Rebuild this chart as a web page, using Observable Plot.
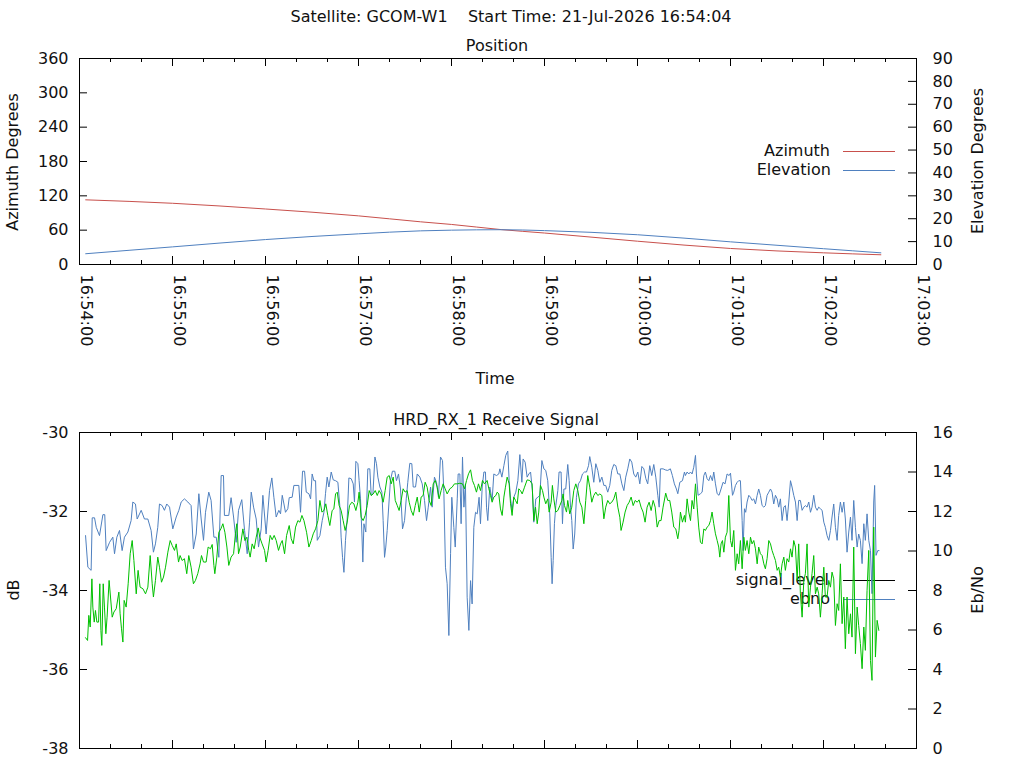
<!DOCTYPE html>
<html><head><meta charset="utf-8">
<script src="https://cdn.jsdelivr.net/npm/d3@7"></script>
<script src="https://cdn.jsdelivr.net/npm/@observablehq/plot@0.6"></script>
<style>
body{margin:0;background:#fff;}
#wrap{position:relative;width:1024px;height:768px;overflow:hidden;font-family:"DejaVu Sans",sans-serif;color:#111;}
.t{position:absolute;font-size:16px;line-height:1;white-space:pre;}
.c{transform:translate(-50%,-50%);}
.r{transform:translate(-50%,-50%) rotate(-90deg);}
.lg{transform:translateY(-50%);text-align:right;}
.ln{position:absolute;height:0;width:52px;}
</style></head><body><div id="wrap"></div>
<script>
// ---------- data ----------
const titleText = "Satellite: GCOM-W1    Start Time: 21-Jul-2026 16:54:04";
const timeLabels = ["16:54:00","16:55:00","16:56:00","16:57:00","16:58:00","16:59:00","17:00:00","17:01:00","17:02:00","17:03:00"];
const azTicks = [0,60,120,180,240,300,360];
const elTicks = [0,10,20,30,40,50,60,70,80,90];
const dbTicks = [-38,-36,-34,-32,-30];
const ebnoTicks = [0,2,4,6,8,10,12,14,16];

// position (seconds after 16:54:00)
const posSec    = [4, 60, 120, 180, 220, 240, 272, 300, 360, 420, 480, 517];
const azimuth   = [113, 107, 97, 85, 74.6, 70, 61, 55, 40.7, 28, 20.4, 17];
const elevation = [4.7, 7.7, 10.9, 13.4, 14.7, 15.0, 15.2, 14.8, 13.0, 9.9, 6.9, 5.1];

// signal level (dB) — seconds after 16:54:00
const sigSec = [
3.9,5.4,7.5,8.2,9.7,10.8,12.9,15.1,16.3,17.2,
19.4,21.5,22.6,24.1,25.8,27.5,29.0,31.2,33.3,34.4,
36.1,37.2,39.8,41.9,44.1,46.2,47.7,49.0,50.5,51.6,
53.3,54.8,56.3,58.1,60.2,62.4,64.1,65.6,67.7,69.9,
72.0,73.5,75.3,77.0,78.5,80.0,81.3,83.4,84.9,86.7,
88.2,89.9,91.4,92.9,93.5,96.3,97.8,99.4,101.1,102.6,
104.7,106.5,108.2,109.7,110.8,112.3,114.0,115.5,117.2,118.3,
120.4,122.6,124.1,125.4,126.9,128.6,
129.7,130.8,131.9,132.9,134.4,135.3,137.2,138.3,141.5,142.6,
143.9,145.2,146.3,148.0,149.1,150.1,151.2,152.3,153.4,155.1,
156.6,157.7,158.7,159.8,160.9,162.4,163.7,165.2,166.7,168.0,
168.8,169.7,170.6,171.6,172.7,173.8,175.3,176.6,177.4,178.3,
179.6,180.4,181.3,182.2,182.8,183.5,184.7,186.0,187.3,188.2,
189.3,190.6,191.6,192.5,193.8,195.1,195.9,196.8,197.6,198.5,
199.6,200.6,201.9,203.4,204.5,205.8,207.1,208.4,209.7,210.8,
211.8,213.1,214.4,215.3,216.8,217.9,219.6,221.1,222.6,223.9,
225.0,226.5,227.5,229.0,230.3,231.6,232.9,234.2,235.1,236.1,
237.2,238.3,239.4,240.2,241.5,242.4,243.7,244.3,245.4,246.2,
247.1,248.0,249.0,250.1,251.2,252.3,253.3,254.4,255.5,256.6,
257.8,258.7,259.8,260.9,261.9,
262.6,263.4,264.7,266.2,267.3,269.0,270.5,271.2,272.5,273.8,
275.0,276.3,277.2,278.1,279.1,280.2,281.5,282.8,284.1,285.4,
286.2,287.5,288.8,289.9,291.0,292.2,293.1,294.4,295.7,297.0,
298.3,299.6,300.8,302.1,303.4,304.3,304.9,305.6,306.4,307.3,
308.6,309.4,310.7,311.6,312.5,313.7,315.0,315.9,316.8,317.6,
318.5,319.5,320.6,321.9,323.2,324.5,325.8,327.1,328.4,329.2,
330.5,331.8,333.1,334.4,335.7,337.0,338.3,339.5,340.8,342.1,
343.4,344.7,346.0,347.3,348.6,349.9,351.2,352.4,353.7,355.0,
356.3,357.6,358.9,360.2,361.5,362.8,364.1,365.4,366.6,367.9,
369.2,370.5,371.8,373.1,374.0,374.8,376.5,378.2,379.5,381.2,
382.5,383.8,385.1,386.0,387.3,389.0,390.3,
390.9,392.0,393.1,394.2,395.2,396.3,397.4,398.0,399.1,400.6,
401.7,402.8,403.8,404.9,406.0,407.1,408.3,409.2,410.3,411.4,
412.6,413.9,415.2,416.5,417.8,419.1,420.0,421.3,422.1,423.2,
424.3,425.3,426.4,427.5,428.1,429.0,429.8,430.7,431.8,432.9,
433.9,435.0,436.1,437.2,438.2,439.3,440.4,441.5,442.5,443.6,
444.7,445.8,446.8,447.9,449.0,450.1,451.1,452.2,453.3,454.4,
455.4,456.5,457.6,458.7,459.7,460.8,461.9,463.0,464.0,465.1,
466.2,467.3,468.3,469.4,470.5,471.6,472.6,473.7,474.8,475.9,
476.9,478.0,479.1,480.2,481.2,482.3,483.4,484.5,485.5,486.6,
487.7,488.8,489.8,490.9,492.0,493.1,494.1,495.2,496.3,497.4,
498.4,499.5,500.6,501.7,502.7,503.8,504.9,506.0,507.0,508.1,
509.2,510.3,511.3,512.4,513.0,513.9,515.0,515.8];
const sigDb = [
-32.61,-33.41,-33.49,-32.16,-32.16,-32.40,-32.61,-32.08,-32.08,-32.99,
-32.78,-32.65,-33.07,-32.65,-32.48,-32.99,-32.65,-32.52,-32.23,-31.76,
-31.81,-32.19,-31.97,-32.19,-32.19,-32.48,-33.03,-32.82,-32.40,-31.81,
-31.85,-31.97,-31.81,-31.89,-32.44,-32.14,-31.97,-31.76,-31.68,-31.76,
-31.85,-32.95,-32.57,-31.55,-32.19,-32.73,-32.02,-31.51,-31.72,-32.65,
-32.65,-33.16,-31.09,-31.09,-32.10,-32.10,-31.65,-32.14,-32.78,-31.97,
-31.70,-32.48,-33.07,-32.27,-31.51,-31.89,-32.19,-32.90,-32.44,-31.59,
-32.57,-31.47,-31.15,-31.64,-32.14,-31.97,
-32.06,-31.59,-31.81,-32.02,-31.93,-31.65,-31.64,-31.34,-31.34,-32.02,
-30.98,-30.98,-31.51,-31.55,-31.68,-31.05,-31.22,-31.22,-32.73,-32.61,
-32.23,-32.02,-31.55,-31.13,-31.38,-31.00,-31.20,-31.22,-31.26,-31.89,
-32.65,-33.16,-33.54,-32.73,-32.19,-31.15,-31.17,-31.30,-31.76,-30.73,
-30.79,-31.22,-31.68,-32.57,-33.28,-32.31,-32.52,-30.92,-30.92,-31.59,
-31.55,-30.62,-30.79,-31.13,-31.38,-31.51,-32.23,-33.16,-32.90,-32.48,
-31.81,-31.22,-30.98,-30.98,-31.22,-31.05,-31.43,-32.44,-32.23,-31.68,
-31.26,-30.78,-30.79,-31.38,-31.38,-31.05,-31.13,-31.30,-31.72,-32.23,
-31.89,-31.38,-31.89,-31.13,-31.26,-31.64,-30.62,-30.71,-31.55,-33.41,
-33.83,-35.14,-33.07,-31.64,-32.40,-32.90,-31.68,-31.05,-31.05,-32.31,
-30.62,-31.89,-31.30,-34.17,-35.01,-33.75,-34.34,-32.40,-32.02,-32.06,
-31.64,-32.31,-31.38,-31.00,-31.00,
-31.89,-32.23,-31.38,-31.72,-31.05,-31.09,-31.05,-30.92,-31.13,-30.84,
-30.58,-30.47,-31.22,-31.68,-31.97,-31.64,-31.51,-31.22,-30.56,-31.26,
-30.67,-30.75,-31.13,-31.05,-31.00,-31.47,-32.27,-31.68,-31.64,-31.59,
-30.71,-30.92,-30.96,-31.22,-32.06,-33.16,-33.83,-33.24,-32.31,-31.85,
-31.47,-31.00,-31.00,-32.31,-31.43,-31.43,-30.81,-31.22,-31.89,-32.23,
-32.95,-32.57,-31.64,-31.30,-31.22,-31.05,-31.00,-31.00,-30.84,-30.61,
-30.88,-31.26,-30.79,-30.96,-31.26,-31.13,-31.34,-31.34,-31.51,-31.34,
-30.96,-30.81,-30.84,-31.05,-31.05,-31.30,-31.47,-31.13,-30.92,-30.67,
-30.75,-31.05,-31.13,-31.00,-31.30,-30.86,-30.92,-31.17,-31.30,-30.84,
-31.09,-30.81,-31.13,-31.59,-31.89,-30.92,-30.92,-30.95,-30.96,-30.92,
-31.09,-31.30,-31.43,-31.55,-31.26,-31.22,-31.00,
-31.09,-31.00,-31.05,-31.00,-31.05,-30.88,-30.58,-31.05,-31.59,-31.55,
-31.51,-31.09,-31.00,-31.17,-31.22,-31.09,-31.22,-31.00,-31.30,-31.55,
-31.59,-31.43,-31.26,-31.30,-31.05,-31.09,-31.03,-31.59,-31.51,-31.34,
-31.26,-31.22,-31.22,-32.23,-32.99,-31.93,-32.02,-31.76,-31.59,-31.64,
-31.72,-31.68,-31.81,-31.59,-31.43,-31.59,-31.85,-31.89,-31.85,-31.59,
-31.51,-31.43,-31.51,-31.81,-31.59,-31.68,-31.89,-31.68,-32.23,-31.89,
-31.85,-32.23,-31.76,-31.22,-31.38,-31.59,-31.76,-32.23,-31.72,-31.72,
-31.97,-31.89,-31.85,-31.89,-31.76,-32.02,-31.89,-31.59,-31.89,-31.97,
-31.89,-31.93,-31.97,-32.27,-32.40,-32.61,-32.73,-32.48,-32.14,-31.81,
-32.40,-32.73,-32.10,-31.76,-32.02,-31.76,-32.19,-33.03,-32.52,-32.14,
-32.73,-31.72,-32.40,-32.90,-32.57,-32.73,-33.32,-32.31,-32.73,-32.06,
-32.73,-32.99,-34.08,-31.76,-31.34,-33.11,-32.99,-32.99];

// Eb/No — seconds after 16:54:00
const ebnoSec = [
3.9,5.2,6.0,6.9,8.0,8.6,9.5,10.3,11.2,12.3,
13.1,13.8,14.4,15.3,16.1,17.0,17.8,19.1,20.0,21.1,
22.2,23.7,25.4,26.2,27.1,28.0,28.8,30.1,31.4,32.7,
34.0,35.1,36.6,37.8,39.1,40.9,42.6,44.1,45.6,46.9,
47.7,49.0,50.5,51.6,52.9,54.2,55.5,57.0,58.5,59.8,
61.3,62.4,63.9,64.9,66.2,67.7,69.2,70.5,72.0,73.5,
74.8,76.3,77.8,78.7,80.0,81.7,83.0,84.5,85.6,86.7,
87.3,88.6,89.9,91.2,92.5,93.8,95.1,96.3,97.8,99.4,
100.6,101.5,102.6,103.7,105.4,106.7,108.0,109.2,110.1,111.4,
112.7,114.0,115.3,116.3,117.8,119.4,120.4,121.7,123.0,124.3,
125.6,126.9,128.4,
129.7,130.8,132.3,133.6,135.3,136.6,137.9,139.4,140.9,142.2,
143.5,144.8,146.5,148.0,149.5,150.8,152.3,153.8,155.1,156.4,
157.7,158.9,160.2,161.5,163.0,164.1,165.2,166.3,167.5,168.8,
170.1,171.4,172.7,174.2,175.7,177.0,178.3,179.6,180.4,181.7,
183.0,184.3,185.6,186.9,188.2,189.5,190.8,192.1,193.3,194.6,
195.9,197.2,198.5,199.8,201.1,202.4,203.7,205.0,206.2,207.5,
208.8,210.1,211.4,212.7,214.0,215.3,216.6,217.9,219.2,220.4,
221.7,223.0,224.3,225.6,226.9,228.2,229.5,230.8,232.0,233.3,
234.6,235.9,237.2,238.9,240.4,241.9,243.7,245.4,247.1,248.4,
249.7,251.0,252.3,253.5,254.8,256.1,257.4,258.7,260.0,261.3,
263.0,264.1,265.2,266.2,267.3,268.6,269.5,270.5,271.6,272.7,
273.8,274.8,275.9,277.2,278.1,279.1,280.2,281.3,282.4,283.4,
284.5,285.6,287.1,288.8,290.5,292.0,293.1,294.2,295.3,296.3,
297.4,298.7,299.6,300.8,302.1,303.0,304.3,305.1,306.0,307.3,
308.6,309.9,311.2,312.0,312.9,314.2,315.0,316.3,317.6,318.9,
320.2,321.5,322.8,324.1,325.4,326.6,327.9,329.2,330.5,331.8,
333.1,334.4,335.7,337.0,338.3,339.5,340.8,342.1,343.4,344.7,
346.0,347.3,348.6,349.4,350.7,352.0,353.3,354.6,355.9,357.2,
358.5,359.8,361.0,362.3,363.6,364.9,366.2,367.5,368.8,370.1,
371.4,372.7,374.0,375.2,376.5,378.2,379.5,380.8,382.1,383.4,
384.7,386.0,386.8,387.7,389.0,390.3,
390.9,392.0,393.1,394.2,395.2,396.3,397.4,398.5,399.5,400.6,
401.7,402.8,403.8,404.9,406.0,407.1,408.1,409.2,410.3,411.4,
412.4,413.1,413.9,414.8,415.7,416.7,417.8,418.9,420.0,421.0,
422.1,423.2,424.3,425.3,426.4,427.5,428.6,429.6,430.7,431.8,
432.9,433.9,435.0,436.1,437.2,438.2,439.3,440.4,441.5,442.5,
443.6,444.7,445.8,446.8,447.9,449.0,450.1,451.1,452.2,453.3,
454.4,455.4,456.5,457.6,458.7,459.7,460.8,461.9,463.0,464.0,
465.1,466.2,467.3,468.3,469.4,470.5,471.6,472.6,473.7,474.8,
475.9,476.9,478.0,479.1,480.2,481.2,482.3,483.4,484.5,485.5,
486.6,487.7,488.8,489.8,490.9,492.0,493.1,494.1,495.2,496.3,
497.4,498.4,499.5,500.6,501.7,502.7,503.8,504.9,506.0,507.0,
508.1,509.2,510.3,511.3,512.4,513.5,514.6,515.7];
const ebnoVal = [
5.61,5.47,6.74,6.15,8.59,7.16,6.40,6.99,6.40,6.40,
8.34,5.98,5.22,8.34,7.16,5.81,6.65,8.51,7.67,6.65,
6.91,7.08,7.92,6.82,6.06,5.39,7.50,7.16,8.34,9.86,
10.53,9.52,7.83,9.02,8.17,8.09,7.83,8.17,9.77,8.34,
7.67,8.51,9.69,9.18,8.42,8.68,9.18,9.94,10.53,10.28,
10.03,10.36,9.44,9.77,9.52,9.61,8.85,9.77,9.18,8.34,
8.51,8.85,9.35,9.77,9.44,9.44,10.20,10.11,10.33,9.27,
8.85,9.69,10.95,11.12,11.38,10.95,10.20,9.27,9.69,9.86,
10.87,11.38,9.86,10.20,11.12,10.53,10.70,10.03,9.69,10.36,
10.11,10.70,11.17,10.70,10.36,10.03,9.44,10.03,10.79,10.57,
10.79,10.53,10.03,
10.36,10.53,9.86,10.79,11.29,10.62,10.36,11.21,11.54,11.46,
11.80,11.54,10.95,10.20,10.53,10.87,11.12,11.54,12.56,11.97,
12.05,12.39,11.80,11.29,12.05,12.13,12.89,12.98,12.30,12.05,
11.54,11.04,11.46,12.30,12.47,12.39,12.05,12.47,12.98,11.71,
11.54,11.80,12.30,13.06,12.81,12.89,13.06,12.81,13.06,12.89,
12.47,13.06,13.74,13.82,13.40,13.74,12.56,12.30,12.05,12.56,
13.15,12.98,13.06,12.47,12.05,11.80,12.30,12.73,11.97,12.73,
12.81,13.48,13.23,12.56,12.30,13.40,13.57,13.23,12.64,13.06,
13.40,13.15,12.89,13.15,13.23,13.40,13.40,13.43,13.40,13.15,
13.57,13.91,14.11,13.57,13.32,12.98,13.40,13.06,13.57,13.40,
13.57,13.15,12.81,12.47,12.73,12.81,12.98,12.89,12.13,11.80,
12.73,13.23,13.74,13.40,12.39,11.80,12.73,12.56,12.39,13.15,
13.06,12.89,13.23,13.60,13.57,13.40,11.54,12.22,11.38,11.97,
13.32,13.06,12.73,12.39,12.64,11.97,12.47,13.32,12.64,11.97,
12.05,12.30,12.56,12.89,12.30,11.97,12.56,11.88,12.22,13.06,
13.40,13.06,12.47,12.22,11.38,12.56,13.82,13.23,12.47,12.81,
12.98,12.81,12.89,12.81,11.63,12.22,12.56,12.39,12.47,12.64,
12.98,12.22,11.71,11.04,11.46,11.97,12.30,12.47,12.73,12.30,
12.56,12.47,12.59,12.22,11.97,11.46,12.22,12.47,12.05,12.56,
12.22,11.21,11.54,11.54,12.22,12.93,12.56,12.56,11.97,11.21,
11.12,10.62,11.04,11.97,11.46,11.80,
11.46,12.64,11.97,11.54,12.56,12.13,13.40,12.22,11.21,10.45,
10.36,11.12,11.04,11.21,11.29,11.54,11.97,11.38,10.87,10.53,
10.20,9.69,10.36,10.53,9.94,10.70,10.95,12.81,10.53,10.20,
11.04,9.02,9.86,9.35,10.53,9.10,10.70,10.03,10.53,9.86,
10.70,10.36,10.53,10.11,9.35,10.20,9.86,9.77,9.35,9.10,
9.61,10.53,10.36,10.03,9.77,9.52,9.02,9.18,8.68,9.35,
9.69,9.02,9.61,9.44,10.11,9.69,10.53,10.20,8.51,10.36,
7.83,6.65,8.51,8.85,10.36,7.16,8.17,8.85,9.77,7.83,
8.17,7.83,6.65,7.83,9.18,7.67,7.67,8.51,8.17,8.93,
8.59,6.23,7.33,6.99,9.35,6.32,7.67,5.05,7.67,5.81,
6.82,5.64,10.20,4.80,7.16,6.23,5.31,4.04,6.15,4.97,
8.00,10.03,4.46,3.45,11.21,4.63,6.49,5.98];

// ---------- chart ----------
const W = 1024, H = 768, ML = 79, MR = 108;
const FW = W - ML - MR;
const FS = 16;
const FONT = "DejaVu Sans";
const TXT = "#111";
const base = Date.UTC(2026, 6, 21, 16, 54, 0);
const T = s => new Date(base + s * 1000);
const hms = str => { const [h, m, s] = str.split(":").map(Number); return h * 3600 + m * 60 + s - (16 * 3600 + 54 * 60); };
const majorSec = timeLabels.map(hms);
const majorT = majorSec.map(T);
const minorT = d3.range(majorSec[0], majorSec[majorSec.length - 1], 20).filter(s => s % 60 !== 0).map(T);
const xDomain = [majorT[0], majorT[majorT.length - 1]];

const RED = "#c8504c", BLUE = "#4f80bf", GREEN = "#00c000";

const posData = posSec.map((s, i) => ({t: T(s), az: azimuth[i], el: elevation[i]}));
const sigData = sigSec.map((s, i) => ({t: T(s), v: sigDb[i]}));
const ebnoData = ebnoSec.map((s, i) => ({t: T(s), v: ebnoVal[i]}));

const wrap = document.getElementById("wrap");

function addText(txt, x, y, cls) {
  const d = document.createElement("div");
  d.className = "t " + cls;
  d.textContent = txt;
  d.style.left = x + "px";
  d.style.top = y + "px";
  wrap.appendChild(d);
}
function addLegend(txt, rightX, y, color) {
  const d = document.createElement("div");
  d.className = "t lg";
  d.textContent = txt;
  d.style.right = (W - rightX) + "px";
  d.style.top = y + "px";
  wrap.appendChild(d);
  const l = document.createElement("div");
  l.className = "ln";
  l.style.left = "843px";
  l.style.top = y + "px";
  l.style.borderTop = "1px solid " + color;
  wrap.appendChild(l);
}

function layer(top, bottom, yDomain, marks) {
  const svg = Plot.plot({
    width: W, height: H,
    marginLeft: ML, marginRight: MR, marginTop: top, marginBottom: H - bottom,
    x: {type: "utc", domain: xDomain, axis: null},
    y: {domain: yDomain, axis: null},
    style: {background: "transparent", fontFamily: FONT, fontSize: FS + "px", color: TXT, position: "absolute", left: "0px", top: "0px"},
    marks
  });
  wrap.appendChild(svg);
}

function xTicks(fh) {
  return [
    Plot.tickX(majorT, {x: d => d, insetTop: fh - 8, stroke: "#000"}),
    Plot.tickX(majorT, {x: d => d, insetBottom: fh - 8, stroke: "#000"}),
    Plot.tickX(minorT, {x: d => d, insetTop: fh - 4, stroke: "#000"}),
    Plot.tickX(minorT, {x: d => d, insetBottom: fh - 4, stroke: "#000"})
  ];
}
function leftAxis(ticks) {
  return [
    Plot.tickY(ticks, {y: d => d, insetRight: FW - 8, stroke: "#000"}),
    Plot.text(ticks, {y: d => d, text: d => String(d), frameAnchor: "left", textAnchor: "end", dx: -11, fontSize: FS, fill: TXT})
  ];
}
function rightAxis(ticks) {
  return [
    Plot.tickY(ticks, {y: d => d, insetLeft: FW - 8, stroke: "#000"}),
    Plot.text(ticks, {y: d => d, text: d => String(d), frameAnchor: "right", textAnchor: "start", dx: 16, fontSize: FS, fill: TXT})
  ];
}

// HTML texts and legends (beneath the SVG layers)
addText(titleText, 511, 17, "c");
addText("Position", 497, 46, "c");
addText("Azimuth Degrees", 13, 162, "r");
addText("Elevation Degrees", 978, 161, "r");
addText("Time", 495, 379, "c");
addText("HRD_RX_1 Receive Signal", 496, 420, "c");
addText("dB", 14, 590, "r");
addText("Eb/No", 978, 590, "r");
addLegend("Azimuth", 830, 151, RED);
addLegend("Elevation", 831, 170, BLUE);
addLegend("signal_level", 829, 580, "#000");
addLegend("ebno", 830, 599, BLUE);

// --- top panel: Position ---
const TOP1 = 58, BOT1 = 264, FH1 = BOT1 - TOP1;
layer(TOP1, BOT1, [0, 360], [
  Plot.frame({stroke: "#000"}),
  ...xTicks(FH1),
  ...leftAxis(azTicks),
  Plot.text(majorT, {x: d => d, text: (d, i) => timeLabels[i], frameAnchor: "bottom", rotate: 90, textAnchor: "start", dy: 10, dx: 1, fontSize: FS, fill: TXT}),
  Plot.line(posData, {x: "t", y: "az", stroke: RED, strokeWidth: 1, curve: "monotone-x"})
]);
layer(TOP1, BOT1, [0, 90], [
  ...rightAxis(elTicks),
  Plot.line(posData, {x: "t", y: "el", stroke: BLUE, strokeWidth: 1, curve: "monotone-x"})
]);

// --- bottom panel: Receive signal ---
const TOP2 = 432, BOT2 = 748, FH2 = BOT2 - TOP2;
layer(TOP2, BOT2, [-38, -30], [
  Plot.frame({stroke: "#000"}),
  ...xTicks(FH2),
  ...leftAxis(dbTicks),
  Plot.line(sigData, {x: "t", y: "v", stroke: BLUE, strokeWidth: 1})
]);
layer(TOP2, BOT2, [0, 16], [
  ...rightAxis(ebnoTicks),
  Plot.line(ebnoData, {x: "t", y: "v", stroke: GREEN, strokeWidth: 1})
]);
</script>
</body></html>
